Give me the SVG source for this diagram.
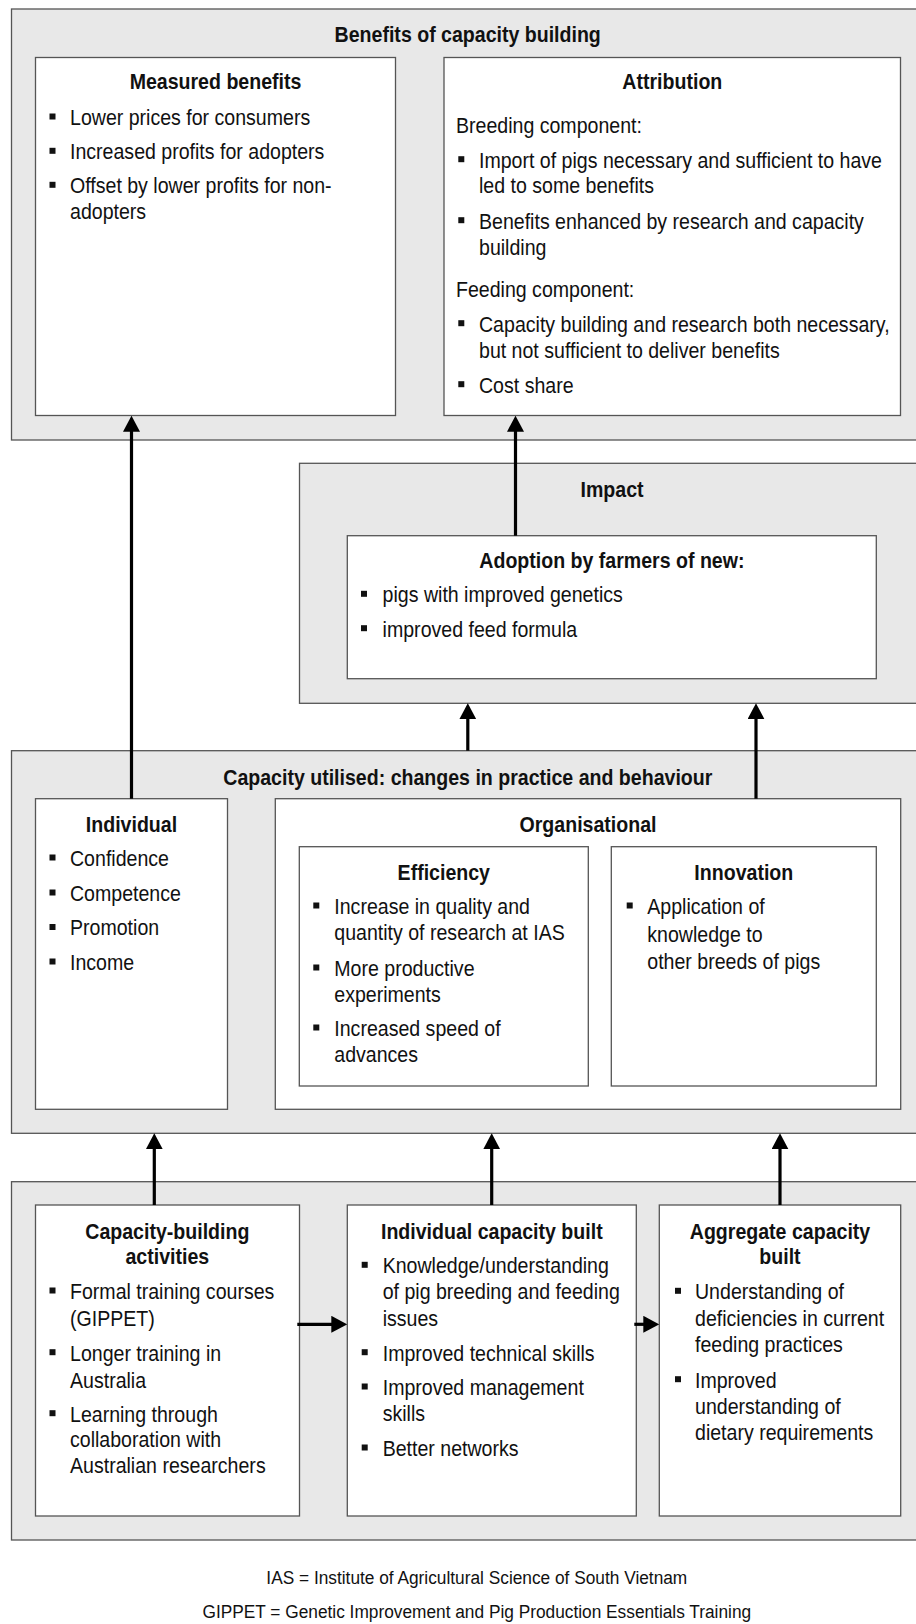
<svg xmlns="http://www.w3.org/2000/svg" width="916" height="1624" viewBox="0 0 916 1624">
<style>
.outer{fill:#e8e8e8;stroke:#555;stroke-width:1.3}
.box{fill:#fff;stroke:#555;stroke-width:1.3}
.t{font-family:"Liberation Sans",Arial,sans-serif;font-size:21.5px;fill:#111}
.f{font-family:"Liberation Sans",Arial,sans-serif;font-size:19px;fill:#111;text-anchor:middle}
.b{font-weight:bold}
.c{text-anchor:middle}
.sq{fill:#111}
.con{stroke:#000;stroke-width:3.2;fill:none;marker-end:url(#ah)}
</style>
<defs>
<marker id="ah" markerUnits="userSpaceOnUse" viewBox="0 0 16 17" refX="8" refY="8.5" markerWidth="16" markerHeight="17" orient="auto"><path d="M0,0 L16,8.5 L0,17 Z" fill="#000"/></marker>
</defs>
<rect width="916" height="1624" fill="#fff"/>

<g id="benefits">
<rect class="outer" x="11.5" y="9" width="915" height="431"/>
<g transform="translate(467.7 0) scale(.91 1)"><text class="t b c" x="0" y="41.7">Benefits of capacity building</text></g>
</g>

<g id="measured">
<rect class="box" x="35.5" y="57.5" width="360" height="358"/>
<g transform="translate(215.5 0) scale(.91 1)"><text class="t b c" x="0" y="89">Measured benefits</text></g>
<rect class="sq" x="49.5" y="113.5" width="6" height="6"/>
<rect class="sq" x="49.5" y="147.8" width="6" height="6"/>
<rect class="sq" x="49.5" y="181.8" width="6" height="6"/>
<g transform="translate(70 0) scale(.91 1)"><text class="t"><tspan x="0" y="125">Lower prices for consumers</tspan><tspan x="0" y="159.3">Increased profits for adopters</tspan><tspan x="0" y="193.3">Offset by lower profits for non-</tspan><tspan x="0" y="219.3">adopters</tspan></text></g>
</g>

<g id="attribution">
<rect class="box" x="444" y="57.5" width="456.5" height="358"/>
<g transform="translate(672.3 0) scale(.91 1)"><text class="t b c" x="0" y="89.3">Attribution</text></g>
<g transform="translate(456 0) scale(.91 1)"><text class="t"><tspan x="0" y="132.7">Breeding component:</tspan><tspan x="0" y="296.7">Feeding component:</tspan></text></g>
<rect class="sq" x="458.3" y="156.2" width="6" height="6"/>
<rect class="sq" x="458.3" y="217.2" width="6" height="6"/>
<rect class="sq" x="458.3" y="320.2" width="6" height="6"/>
<rect class="sq" x="458.3" y="381.2" width="6" height="6"/>
<g transform="translate(479 0) scale(.91 1)"><text class="t"><tspan x="0" y="167.7">Import of pigs necessary and sufficient to have</tspan><tspan x="0" y="193.3">led to some benefits</tspan><tspan x="0" y="228.7">Benefits enhanced by research and capacity</tspan><tspan x="0" y="255">building</tspan><tspan x="0" y="331.7">Capacity building and research both necessary,</tspan><tspan x="0" y="357.7">but not sufficient to deliver benefits</tspan><tspan x="0" y="392.7">Cost share</tspan></text></g>
</g>

<g id="impact">
<rect class="outer" x="299.5" y="463.3" width="627" height="240"/>
<g transform="translate(612 0) scale(.91 1)"><text class="t b c" x="0" y="497.3">Impact</text></g>
</g>

<g id="adoption">
<rect class="box" x="347.3" y="535.7" width="529" height="143"/>
<g transform="translate(611.9 0) scale(.91 1)"><text class="t b c" x="0" y="568.3">Adoption by farmers of new:</text></g>
<rect class="sq" x="361" y="590.8" width="6" height="6"/>
<rect class="sq" x="361" y="625.2" width="6" height="6"/>
<g transform="translate(382.6 0) scale(.91 1)"><text class="t"><tspan x="0" y="602.3">pigs with improved genetics</tspan><tspan x="0" y="636.7">improved feed formula</tspan></text></g>
</g>

<g id="utilised">
<rect class="outer" x="11.5" y="750.7" width="915" height="382.6"/>
<g transform="translate(467.8 0) scale(.91 1)"><text class="t b c" x="0" y="785">Capacity utilised: changes in practice and behaviour</text></g>
</g>

<g id="individual">
<rect class="box" x="35.5" y="798.7" width="192" height="310.6"/>
<g transform="translate(131.5 0) scale(.91 1)"><text class="t b c" x="0" y="831.7">Individual</text></g>
<rect class="sq" x="49.5" y="854.5" width="6" height="6"/>
<rect class="sq" x="49.5" y="889.5" width="6" height="6"/>
<rect class="sq" x="49.5" y="924" width="6" height="6"/>
<rect class="sq" x="49.5" y="958.5" width="6" height="6"/>
<g transform="translate(70 0) scale(.91 1)"><text class="t"><tspan x="0" y="866">Confidence</tspan><tspan x="0" y="901">Competence</tspan><tspan x="0" y="935.5">Promotion</tspan><tspan x="0" y="970">Income</tspan></text></g>
</g>

<g id="organisational">
<rect class="box" x="275.3" y="798.7" width="625.4" height="310.6"/>
<g transform="translate(588 0) scale(.91 1)"><text class="t b c" x="0" y="831.7">Organisational</text></g>
</g>

<g id="efficiency">
<rect class="box" x="299.3" y="846.7" width="289" height="239.3"/>
<g transform="translate(443.8 0) scale(.91 1)"><text class="t b c" x="0" y="880">Efficiency</text></g>
<rect class="sq" x="313.3" y="902.5" width="6" height="6"/>
<rect class="sq" x="313.3" y="964.5" width="6" height="6"/>
<rect class="sq" x="313.3" y="1024.5" width="6" height="6"/>
<g transform="translate(334.3 0) scale(.91 1)"><text class="t"><tspan x="0" y="914">Increase in quality and</tspan><tspan x="0" y="940">quantity of research at IAS</tspan><tspan x="0" y="976">More productive</tspan><tspan x="0" y="1002">experiments</tspan><tspan x="0" y="1036">Increased speed of</tspan><tspan x="0" y="1062.5">advances</tspan></text></g>
</g>

<g id="innovation">
<rect class="box" x="611.3" y="846.7" width="265" height="239.3"/>
<g transform="translate(743.8 0) scale(.91 1)"><text class="t b c" x="0" y="880">Innovation</text></g>
<rect class="sq" x="626.7" y="902.5" width="6" height="6"/>
<g transform="translate(647.3 0) scale(.91 1)"><text class="t"><tspan x="0" y="914">Application of</tspan><tspan x="0" y="941.7">knowledge to</tspan><tspan x="0" y="969.3">other breeds of pigs</tspan></text></g>
</g>

<g id="built">
<rect class="outer" x="11.5" y="1181.7" width="915" height="358.3"/>
</g>

<g id="activities">
<rect class="box" x="35.5" y="1205" width="264" height="311"/>
<g transform="translate(167.3 0) scale(.91 1)"><text class="t b c"><tspan x="0" y="1239">Capacity-building</tspan><tspan x="0" y="1264.3">activities</tspan></text></g>
<rect class="sq" x="49.5" y="1287.5" width="6" height="6"/>
<rect class="sq" x="49.5" y="1349.2" width="6" height="6"/>
<rect class="sq" x="49.5" y="1410.2" width="6" height="6"/>
<g transform="translate(70 0) scale(.91 1)"><text class="t"><tspan x="0" y="1299">Formal training courses</tspan><tspan x="0" y="1325.7">(GIPPET)</tspan><tspan x="0" y="1360.7">Longer training in</tspan><tspan x="0" y="1387.7">Australia</tspan><tspan x="0" y="1421.7">Learning through</tspan><tspan x="0" y="1447.3">collaboration with</tspan><tspan x="0" y="1473.3">Australian researchers</tspan></text></g>
</g>

<g id="individual-built">
<rect class="box" x="347.3" y="1205" width="289" height="311"/>
<g transform="translate(491.8 0) scale(.91 1)"><text class="t b c" x="0" y="1239">Individual capacity built</text></g>
<rect class="sq" x="361.7" y="1261.8" width="6" height="6"/>
<rect class="sq" x="361.7" y="1349.2" width="6" height="6"/>
<rect class="sq" x="361.7" y="1383.5" width="6" height="6"/>
<rect class="sq" x="361.7" y="1444.5" width="6" height="6"/>
<g transform="translate(382.7 0) scale(.91 1)"><text class="t"><tspan x="0" y="1273.3">Knowledge/understanding</tspan><tspan x="0" y="1299.3">of pig breeding and feeding</tspan><tspan x="0" y="1325.7">issues</tspan><tspan x="0" y="1360.7">Improved technical skills</tspan><tspan x="0" y="1395">Improved management</tspan><tspan x="0" y="1421">skills</tspan><tspan x="0" y="1456">Better networks</tspan></text></g>
</g>

<g id="aggregate-built">
<rect class="box" x="659.3" y="1205" width="241.4" height="311"/>
<g transform="translate(780 0) scale(.91 1)"><text class="t b c"><tspan x="0" y="1239">Aggregate capacity</tspan><tspan x="0" y="1264.3">built</tspan></text></g>
<rect class="sq" x="675" y="1287.8" width="6" height="6"/>
<rect class="sq" x="675" y="1376.2" width="6" height="6"/>
<g transform="translate(695 0) scale(.91 1)"><text class="t"><tspan x="0" y="1299.3">Understanding of</tspan><tspan x="0" y="1326">deficiencies in current</tspan><tspan x="0" y="1352.3">feeding practices</tspan><tspan x="0" y="1387.7">Improved</tspan><tspan x="0" y="1414">understanding of</tspan><tspan x="0" y="1440">dietary requirements</tspan></text></g>
</g>

<g id="connectors">
<line class="con" x1="131.5" y1="798.7" x2="131.5" y2="423.7"/>
<line class="con" x1="515.5" y1="535.7" x2="515.5" y2="423.7"/>
<line class="con" x1="467.8" y1="750.7" x2="467.8" y2="711.3"/>
<line class="con" x1="756" y1="798.7" x2="756" y2="711.3"/>
<line class="con" x1="154.3" y1="1205" x2="154.3" y2="1141.3"/>
<line class="con" x1="491.7" y1="1205" x2="491.7" y2="1141.3"/>
<line class="con" x1="780" y1="1205" x2="780" y2="1141.3"/>
<line class="con" x1="297.3" y1="1324.3" x2="339.3" y2="1324.3"/>
<line class="con" x1="634.3" y1="1324.3" x2="651.3" y2="1324.3"/>
</g>

<g id="footnotes">
<g transform="translate(476.8 0) scale(.91 1)"><text class="f"><tspan x="0" y="1584">IAS = Institute of Agricultural Science of South Vietnam</tspan><tspan x="0" y="1618">GIPPET = Genetic Improvement and Pig Production Essentials Training</tspan></text></g>
</g>
</svg>
